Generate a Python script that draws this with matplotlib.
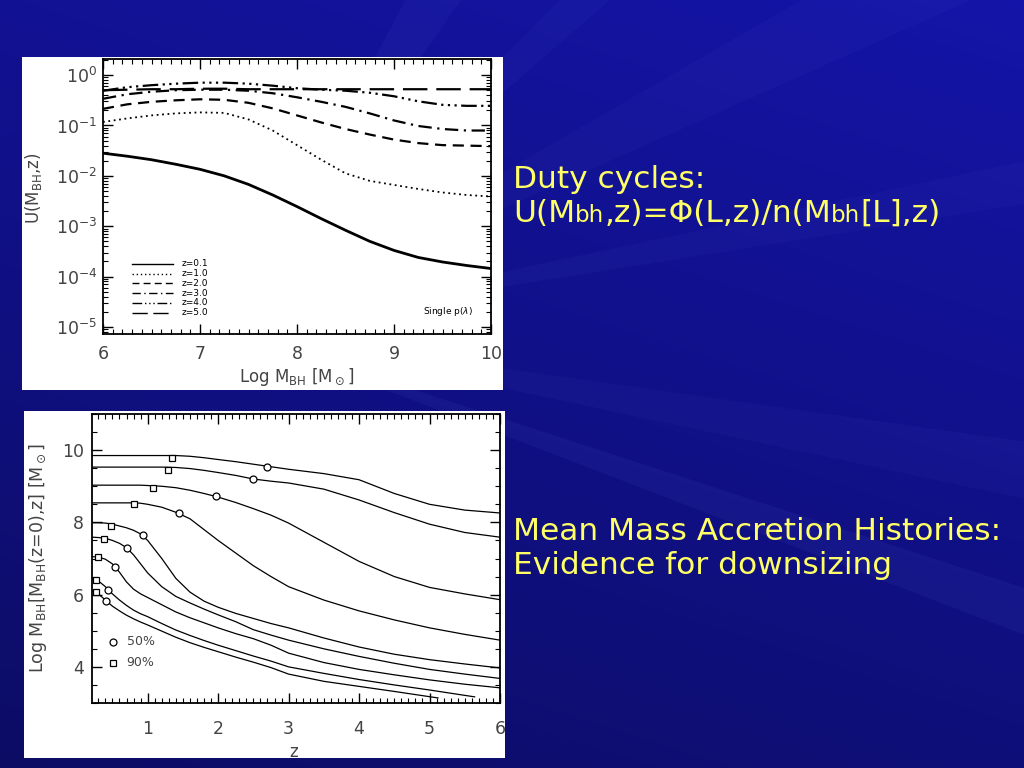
import numpy as np
import matplotlib
matplotlib.use("Agg")
import matplotlib.pyplot as plt
from matplotlib.ticker import MultipleLocator, LogLocator, NullFormatter
from matplotlib.patches import Rectangle, Polygon

W, H = 1024, 768

# ================= data =================
# top panel: duty cycle U(M_BH, z), values as log10(U)
LOG_MBH = [6.0, 6.25, 6.5, 6.75, 7.0, 7.25, 7.5, 7.75, 8.0, 8.25, 8.5, 8.75,
           9.0, 9.25, 9.5, 9.75, 10.0]
LOGU_Z01 = [-1.55, -1.61, -1.68, -1.77, -1.87, -2.00, -2.17, -2.38, -2.61, -2.85,
            -3.08, -3.30, -3.48, -3.62, -3.71, -3.78, -3.84]
LOGU_Z10 = [-0.93, -0.86, -0.80, -0.76, -0.74, -0.75, -0.88, -1.10, -1.39, -1.68,
            -1.95, -2.10, -2.18, -2.26, -2.33, -2.38, -2.41]
LOGU_Z20 = [-0.67, -0.58, -0.53, -0.50, -0.48, -0.49, -0.55, -0.66, -0.80, -0.94,
            -1.07, -1.18, -1.28, -1.35, -1.39, -1.40, -1.41]
LOGU_Z30 = [-0.47, -0.38, -0.33, -0.30, -0.29, -0.29, -0.31, -0.36, -0.44, -0.53,
            -0.63, -0.76, -0.90, -1.01, -1.07, -1.10, -1.10]
LOGU_Z40 = [-0.31, -0.24, -0.20, -0.17, -0.15, -0.15, -0.17, -0.21, -0.26, -0.29,
            -0.31, -0.35, -0.42, -0.52, -0.59, -0.61, -0.61]
LOGU_Z50 = [-0.30, -0.29, -0.28, -0.28, -0.27, -0.27, -0.28, -0.28, -0.28, -0.28,
            -0.28, -0.28, -0.28, -0.28, -0.28, -0.28, -0.28]
Z_LABELS = ["z=0.1", "z=1.0", "z=2.0", "z=3.0", "z=4.0", "z=5.0"]

# bottom panel: mean mass accretion histories, log M_BH vs z
Z_GRID = [0.22, 0.3, 0.4, 0.5, 0.6, 0.7, 0.8, 0.9, 1.0, 1.2, 1.4, 1.6, 1.8, 2.0,
          2.25, 2.5, 2.75, 3.0, 3.5, 4.0, 4.5, 5.0, 5.5, 6.0]
MAH_985 = [9.85, 9.85, 9.85, 9.85, 9.85, 9.85, 9.85, 9.85, 9.85, 9.85, 9.85, 9.83,
           9.79, 9.74, 9.68, 9.61, 9.54, 9.47, 9.35, 9.18, 8.80, 8.50, 8.34, 8.26]
MAH_953 = [9.53, 9.53, 9.53, 9.53, 9.53, 9.53, 9.53, 9.53, 9.53, 9.53, 9.52, 9.49,
           9.44, 9.38, 9.30, 9.20, 9.14, 9.09, 8.92, 8.62, 8.27, 7.95, 7.72, 7.59]
MAH_903 = [9.03, 9.03, 9.03, 9.03, 9.03, 9.03, 9.03, 9.03, 9.02, 9.00, 8.96, 8.89,
           8.80, 8.70, 8.55, 8.38, 8.20, 7.98, 7.45, 6.92, 6.50, 6.20, 6.02, 5.86]
MAH_854 = [8.54, 8.54, 8.54, 8.54, 8.54, 8.54, 8.54, 8.53, 8.50, 8.42, 8.28, 8.10,
           7.80, 7.50, 7.15, 6.80, 6.50, 6.22, 5.85, 5.55, 5.30, 5.08, 4.90, 4.74]
MAH_799 = [7.99, 7.99, 7.98, 7.95, 7.90, 7.85, 7.78, 7.68, 7.50, 7.00, 6.45, 6.07,
           5.82, 5.65, 5.48, 5.34, 5.20, 5.08, 4.80, 4.55, 4.35, 4.20, 4.08, 3.97]
MAH_759 = [7.59, 7.58, 7.56, 7.50, 7.42, 7.30, 7.10, 6.85, 6.60, 6.22, 5.95, 5.77,
           5.60, 5.44, 5.25, 5.03, 4.88, 4.74, 4.50, 4.29, 4.10, 3.93, 3.80, 3.68]
MAH_705 = [7.05, 7.04, 6.98, 6.85, 6.62, 6.35, 6.15, 6.02, 5.92, 5.72, 5.52, 5.36,
           5.22, 5.08, 4.92, 4.78, 4.60, 4.38, 4.12, 3.93, 3.78, 3.64, 3.52, 3.42]
Z_645 = [0.22, 0.3, 0.4, 0.5, 0.6, 0.7, 0.8, 0.9, 1.0, 1.2, 1.4, 1.6, 1.8, 2.0,
         2.25, 2.5, 2.75, 3.0, 3.5, 4.0, 4.5, 5.0, 5.64]
MAH_645 = [6.45, 6.38, 6.22, 6.02, 5.85, 5.70, 5.57, 5.47, 5.39, 5.20, 5.02, 4.87,
           4.73, 4.60, 4.45, 4.30, 4.16, 4.00, 3.82, 3.65, 3.50, 3.36, 3.17]
Z_610 = [0.22, 0.3, 0.4, 0.5, 0.6, 0.7, 0.8, 0.9, 1.0, 1.2, 1.4, 1.6, 1.8, 2.0,
         2.25, 2.5, 2.75, 3.0, 3.5, 4.0, 4.5, 5.12]
MAH_610 = [6.10, 6.02, 5.85, 5.68, 5.55, 5.43, 5.33, 5.24, 5.16, 4.99, 4.82, 4.67,
           4.54, 4.42, 4.27, 4.13, 3.98, 3.80, 3.60, 3.46, 3.32, 3.14]

# redshift where 50% / 90% of the final mass is in place
PCT50_Z = [2.69, 2.50, 1.97, 1.44, 0.93, 0.71, 0.54, 0.44, 0.41]
PCT50_M = [9.54, 9.20, 8.72, 8.25, 7.65, 7.29, 6.77, 6.13, 5.82]
PCT90_Z = [1.35, 1.29, 1.08, 0.80, 0.48, 0.38, 0.30, 0.26, 0.26]
PCT90_M = [9.79, 9.45, 8.96, 8.50, 7.90, 7.54, 7.03, 6.40, 6.08]

YELLOW = "#ffff66"
TICK_GREY = "#444444"


def px_rect(x0, y0, x1, y1):
    """pixel box (top-left origin) -> figure fraction [l, b, w, h]"""
    return [x0 / W, 1 - y1 / H, (x1 - x0) / W, (y1 - y0) / H]


def style_axes(ax):
    ax.tick_params(which="both", direction="in", top=True, right=True,
                   colors="black", labelcolor=TICK_GREY, labelsize=12.5)
    ax.tick_params(which="major", length=7, width=1.0)
    ax.tick_params(which="minor", length=3.5, width=0.8)
    for sp in ax.spines.values():
        sp.set_linewidth(1.3)


fig = plt.figure(figsize=(W / 100, H / 100), dpi=100)

# -------- background: dark blue slide with faint rays --------
bg = fig.add_axes([0, 0, 1, 1], zorder=-10)
bg.set_xlim(0, W)
bg.set_ylim(H, 0)
bg.axis("off")
yy, xx = np.mgrid[0:H, 0:W]
shade = 1.0 - 0.28 * (yy / H) - 0.12 * (1 - xx / W)
img = np.dstack([0.08 * shade, 0.08 * shade, 0.66 * shade])
bg.imshow(np.clip(img, 0, 1), extent=[0, W, H, 0], aspect="auto")
ray_origin = (230, 330)
for a0, a1, alpha in [(-62, -55, 0.045), (-45, -41, 0.04), (-30, -24, 0.035),
                      (-12, -9, 0.035), (8, 12, 0.04), (18, 21, 0.05)]:
    r = 1600
    p0 = (ray_origin[0] + r * np.cos(np.radians(a0)), ray_origin[1] + r * np.sin(np.radians(a0)))
    p1 = (ray_origin[0] + r * np.cos(np.radians(a1)), ray_origin[1] + r * np.sin(np.radians(a1)))
    bg.add_patch(Polygon([ray_origin, p0, p1], closed=True, facecolor="#8f9fff",
                         edgecolor="none", alpha=alpha))
# white boxes behind the two plots
bg.add_patch(Rectangle((22, 57), 481, 333, facecolor="white", edgecolor="none"))
bg.add_patch(Rectangle((24, 411), 481, 347, facecolor="white", edgecolor="none"))

# -------- top panel: duty cycles --------
ax1 = fig.add_axes(px_rect(103, 59, 491, 334))
styles = ["-", (0, (1, 2)), (0, (5, 3)), (0, (6, 2.5, 1, 2.5)),
          (0, (7, 2, 1, 2, 1, 2, 1, 2)), (0, (11, 4))]
widths = [2.0, 1.3, 1.6, 1.6, 1.6, 1.6]
series = [LOGU_Z01, LOGU_Z10, LOGU_Z20, LOGU_Z30, LOGU_Z40, LOGU_Z50]
for logu, ls, lw in zip(series, styles, widths):
    ax1.plot(LOG_MBH, 10.0 ** np.array(logu), color="black", ls=ls, lw=lw)
ax1.set_yscale("log")
ax1.set_xlim(6, 10)
ax1.set_ylim(10 ** -5.14, 10 ** 0.32)
ax1.set_xticks([6, 7, 8, 9, 10])
ax1.xaxis.set_minor_locator(MultipleLocator(0.1))
ax1.yaxis.set_major_locator(LogLocator(base=10, numticks=10))
ax1.yaxis.set_minor_locator(LogLocator(base=10, subs=np.arange(2, 10), numticks=20))
ax1.yaxis.set_minor_formatter(NullFormatter())
style_axes(ax1)
ax1.tick_params(axis="x", pad=8)
ax1.tick_params(axis="y", pad=4)
ax1.set_ylabel(r"U(M$_{\rm BH}$,z)", fontsize=12, color=TICK_GREY, va="center")
ax1.yaxis.set_label_coords(-0.18, 0.53)
ax1.set_xlabel(r"Log M$_{\rm BH}$ [M$_\odot$]", fontsize=12, color=TICK_GREY, va="center")
ax1.xaxis.set_label_coords(0.5, -0.155)

# hand-made legend, like the IDL original
for i, (lab, ls, lw) in enumerate(zip(Z_LABELS, styles, widths)):
    yl = 0.255 - i * 0.0355
    ax1.plot([0.074, 0.181], [yl, yl], transform=ax1.transAxes, color="black",
             ls=ls, lw=min(lw, 1.0))
    ax1.text(0.203, yl, lab, transform=ax1.transAxes, fontsize=6.5,
             va="center", ha="left", color="black")
ax1.text(0.952, 0.08, r"Single p($\lambda$)", transform=ax1.transAxes,
         fontsize=6.5, ha="right", va="center", color="black")

# -------- bottom panel: mean mass accretion histories --------
ax2 = fig.add_axes(px_rect(92, 414, 500, 703))
tracks = [(Z_GRID, MAH_985), (Z_GRID, MAH_953), (Z_GRID, MAH_903), (Z_GRID, MAH_854),
          (Z_GRID, MAH_799), (Z_GRID, MAH_759), (Z_GRID, MAH_705),
          (Z_645, MAH_645), (Z_610, MAH_610)]
for zz, mm in tracks:
    ax2.plot(zz, mm, color="black", lw=0.9)
ax2.plot(PCT50_Z, PCT50_M, ls="none", marker="o", ms=5, mfc="white",
         mec="black", mew=0.9)
ax2.plot(PCT90_Z, PCT90_M, ls="none", marker="s", ms=5, mfc="white",
         mec="black", mew=0.9)
ax2.set_xlim(0.21, 6)
ax2.set_ylim(3, 11)
ax2.set_xticks([1, 2, 3, 4, 5, 6])
ax2.set_yticks([4, 6, 8, 10])
ax2.xaxis.set_minor_locator(MultipleLocator(0.1))
ax2.yaxis.set_minor_locator(MultipleLocator(0.5))
style_axes(ax2)
ax2.tick_params(axis="x", pad=12)
ax2.tick_params(axis="y", pad=6)
ax2.set_ylabel(r"Log M$_{\rm BH}$[M$_{\rm BH}$(z=0),z] [M$_\odot$]",
               fontsize=12.5, color=TICK_GREY, va="center")
ax2.yaxis.set_label_coords(-0.132, 0.5)
ax2.set_xlabel("z", fontsize=12, color=TICK_GREY, va="center")
ax2.xaxis.set_label_coords(0.495, -0.17)

ax2.plot([0.052], [0.212], transform=ax2.transAxes, marker="o", ms=5,
         mfc="white", mec="black", mew=0.9, ls="none")
ax2.plot([0.052], [0.139], transform=ax2.transAxes, marker="s", ms=5,
         mfc="white", mec="black", mew=0.9, ls="none")
ax2.text(0.085, 0.212, "50%", transform=ax2.transAxes, fontsize=9,
         va="center", color=TICK_GREY)
ax2.text(0.085, 0.139, "90%", transform=ax2.transAxes, fontsize=9,
         va="center", color=TICK_GREY)

# -------- slide text --------
fig.canvas.draw()
renderer = fig.canvas.get_renderer()


def put_runs(x_px, base_px, runs):
    x = x_px
    for s, size in runs:
        t = fig.text(x / W, 1 - base_px / H, s, fontsize=size, color=YELLOW,
                     ha="left", va="baseline")
        x += t.get_window_extent(renderer).width


BIG, SMALL = 22.5, 16.5
put_runs(513, 188, [("Duty cycles:", BIG)])
put_runs(513, 222, [("U(M", BIG), ("bh", SMALL), (",z)=Φ(L,z)/n(M", BIG),
                    ("bh", SMALL), ("[L],z)", BIG)])
put_runs(513, 540, [("Mean Mass Accretion Histories:", BIG)])
put_runs(513, 574, [("Evidence for downsizing", BIG)])

fig.savefig("out.png", dpi=100)
